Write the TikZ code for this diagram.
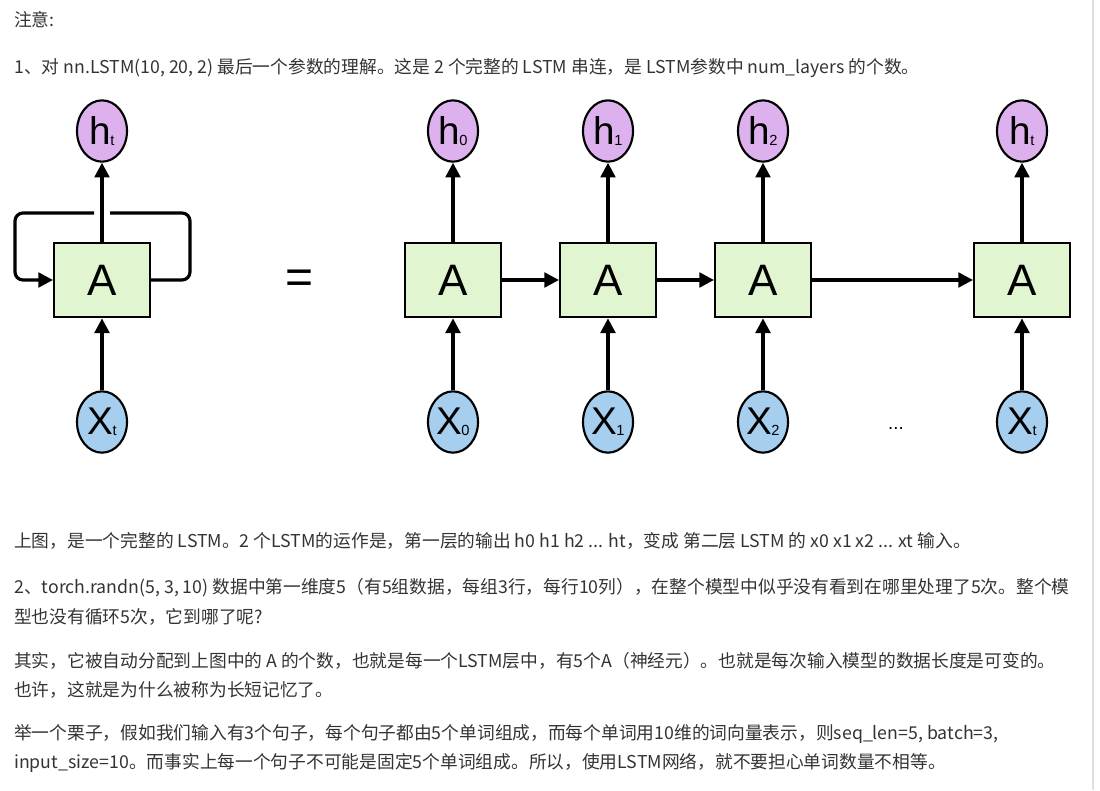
\documentclass[tikz,border=0pt]{standalone}
\usepackage{fontspec}
\setmainfont{Noto Sans CJK SC}
\newfontfamily\lblfont{Liberation Sans}
\usetikzlibrary{shapes.geometric,arrows.meta}
\definecolor{hcol}{HTML}{DDB0EE}
\definecolor{xcol}{HTML}{A6CEEE}
\definecolor{acol}{HTML}{E0F5D0}
\definecolor{txt}{HTML}{333333}
\tikzset{
  ell/.style={ellipse,draw,line width=1.6pt,minimum width=37.5pt,minimum height=46pt,inner sep=0pt,font=\lblfont\fontsize{29}{29}\selectfont},
  hnode/.style={ell,fill=hcol},
  xnode/.style={ell,fill=xcol},
  abox/.style={draw,line width=1.5pt,fill=acol,minimum width=72pt,minimum height=56pt,inner sep=0pt,font=\lblfont\fontsize{33}{33}\selectfont},
  conn/.style={line width=2.4pt,-{Triangle[length=11pt,width=11pt]}},
  plain/.style={line width=2.4pt},
  para/.style={anchor=west,inner sep=0pt,text=txt,font=\fontsize{13.3}{13.3}\selectfont}
}
\newcommand{\lbl}[2]{#1\kern-0.5pt\raisebox{-1pt}{\fontsize{11}{11}\selectfont #2}}
\begin{document}
\begin{tikzpicture}[x=0.75pt,y=-0.75pt]
\useasboundingbox (0,0) rectangle (1100,790);
\draw[gray!25,line width=1pt] (1093,0) -- (1093,790);
% texts
\node[para] (t1) at (14,20) {注意:};
\node[para] (t2) at (14,68) {1、对 nn.LSTM(10, 20, 2) 最后一个参数的理解。这是 2 个完整的 LSTM 串连，是 LSTM参数中 num\_layers 的个数。};
\node[para] (t3) at (14,541) {上图，是一个完整的 LSTM。2 个LSTM的运作是，第一层的输出 h0 h1 h2 ... ht，变成 第二层 LSTM 的 x0 x1 x2 ... xt 输入。};
\node[para] (t4) at (14,588) {2、torch.randn(5, 3, 10) 数据中第一维度5（有5组数据，每组3行，每行10列），在整个模型中似乎没有看到在哪里处理了5次。整个模};
\node[para] (t5) at (14,617) {型也没有循环5次，它到哪了呢?};
\node[para] (t6) at (14,661) {其实，它被自动分配到上图中的 A 的个数，也就是每一个LSTM层中，有5个A（神经元）。也就是每次输入模型的数据长度是可变的。};
\node[para] (t7) at (14,690) {也许，这就是为什么被称为长短记忆了。};
\node[para] (t8) at (14,734) {举一个栗子，假如我们输入有3个句子，每个句子都由5个单词组成，而每个单词用10维的词向量表示，则seq\_len=5, batch=3,};
\node[para] (t9) at (14,763) {input\_size=10。而事实上每一个句子不可能是固定5个单词组成。所以，使用LSTM网络，就不要担心单词数量不相等。};
% left rolled
\node[abox] (A0) at (102,280) {A};
\node[hnode] (h0) at (102,131) {\lbl{h}{t}};
\node[xnode] (x0) at (102,422) {\lbl{X}{t}};
\draw[conn] (x0) -- (A0);
\draw[conn] (A0) -- (h0);
\coordinate (r1) at (190,280);
\coordinate (r2) at (190,213);
\coordinate (g1) at (110,213);
\coordinate (g2) at (94,213);
\coordinate (l1) at (15,213);
\coordinate (l2) at (15,280);
\draw[plain,rounded corners=6pt] (A0.east) -- (r1) -- (r2) -- (g1);
\draw[conn,rounded corners=6pt] (g2) -- (l1) -- (l2) -- (A0.west);
\node[font=\lblfont\fontsize{36}{36}\selectfont] (eq) at (300,282) {=};
% unrolled
\foreach \n/\xx/\s in {1/453/0,2/608/1,3/763/2,4/1022/t}{
  \node[abox] (A\n) at (\xx,280) {A};
  \node[hnode] (h\n) at (\xx,131) {\lbl{h}{\s}};
  \node[xnode] (x\n) at (\xx,422) {\lbl{X}{\s}};
  \draw[conn] (x\n) -- (A\n);
  \draw[conn] (A\n) -- (h\n);
}
\draw[conn] (A1) -- (A2);
\draw[conn] (A2) -- (A3);
\draw[conn] (A3) -- (A4);
\node[font=\lblfont\fontsize{14}{14}\selectfont] (dots) at (896,428) {...};
\end{tikzpicture}
\end{document}
